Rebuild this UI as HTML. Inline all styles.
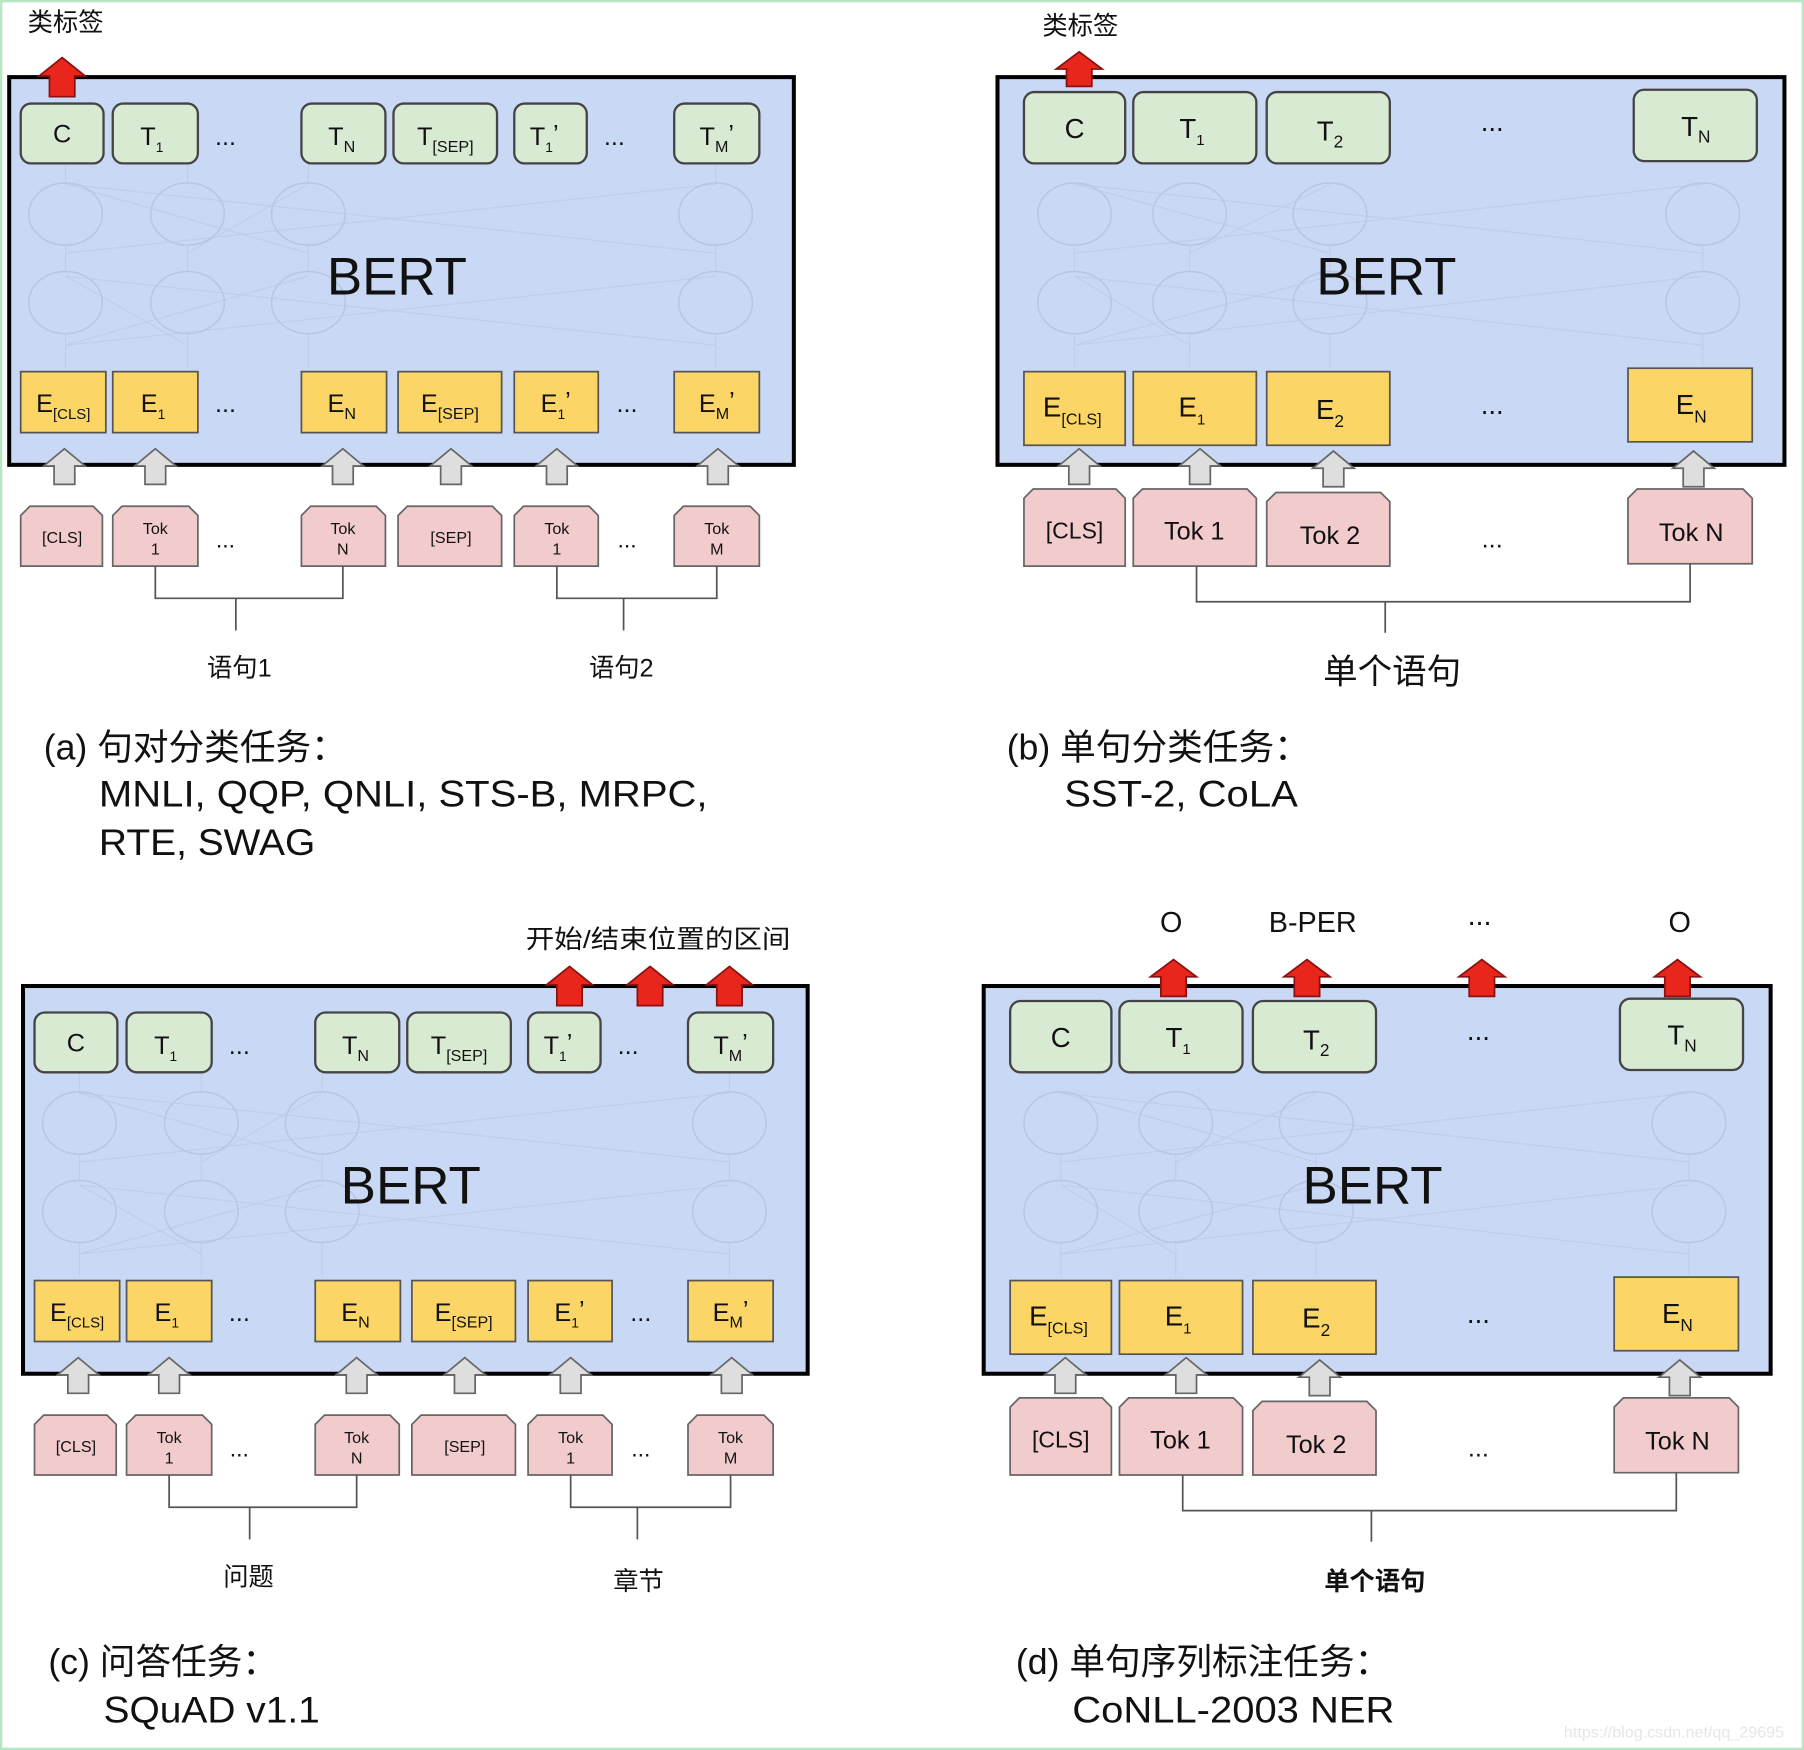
<!DOCTYPE html>
<html><head><meta charset="utf-8"><style>
html,body{margin:0;padding:0;background:#fff;}
svg{display:block;}
text{font-family:"Liberation Sans","Noto Sans CJK SC",sans-serif;fill:#111;}
.tg{fill:#d9ead3;stroke:#444;stroke-width:2;}
.ey{fill:#fbd566;stroke:#555;stroke-width:1.5;}
.tk{fill:#f2cccd;stroke:#666;stroke-width:1.5;}
.ga{fill:#dedede;stroke:#666;stroke-width:1.5;}
.ra{fill:#e8261c;stroke:#8a1010;stroke-width:1.5;}
.br{fill:none;stroke:#555;stroke-width:1.5;}
.fc{fill:none;stroke:#b9c6de;stroke-width:1.3;}
.fl{stroke:#bac7df;stroke-width:1;opacity:0.6;}
</style></head><body>
<svg width="1804" height="1750" viewBox="0 0 1568 1521" xmlns="http://www.w3.org/2000/svg">
<rect x="1" y="1" width="1566" height="1519" fill="#fff" stroke="#b8e6c2" stroke-width="2"/>
<defs>
<g id="pa">
<rect x="8" y="67" width="682" height="337" fill="#c9d9f5" stroke="#000" stroke-width="3.5"/>
<g class="fc"><ellipse cx="57" cy="186" rx="32" ry="27"/><ellipse cx="163" cy="186" rx="32" ry="27"/><ellipse cx="268" cy="186" rx="32" ry="27"/><ellipse cx="622" cy="186" rx="32" ry="27"/>
<ellipse cx="57" cy="263" rx="32" ry="27"/><ellipse cx="163" cy="263" rx="32" ry="27"/><ellipse cx="268" cy="263" rx="32" ry="27"/><ellipse cx="622" cy="263" rx="32" ry="27"/></g>
<g class="fl"><line x1="57" y1="300" x2="622" y2="240"/><line x1="622" y1="300" x2="57" y2="240"/><line x1="163" y1="300" x2="57" y2="240"/><line x1="57" y1="300" x2="268" y2="240"/><line x1="57" y1="220" x2="622" y2="160"/><line x1="622" y1="220" x2="57" y2="160"/><line x1="163" y1="220" x2="268" y2="160"/><line x1="268" y1="220" x2="57" y2="160"/>
<line x1="57" y1="320" x2="57" y2="290"/><line x1="163" y1="320" x2="163" y2="290"/><line x1="268" y1="320" x2="268" y2="290"/><line x1="622" y1="320" x2="622" y2="290"/>
<line x1="57" y1="236" x2="57" y2="213"/><line x1="163" y1="236" x2="163" y2="213"/><line x1="268" y1="236" x2="268" y2="213"/><line x1="622" y1="236" x2="622" y2="213"/>
<line x1="57" y1="159" x2="57" y2="143"/><line x1="163" y1="159" x2="163" y2="143"/><line x1="268" y1="159" x2="268" y2="143"/><line x1="622" y1="159" x2="622" y2="143"/></g>
<rect class="tg" x="18" y="90" width="72" height="52" rx="9"/><rect class="tg" x="98" y="90" width="74" height="52" rx="9"/><rect class="tg" x="262" y="90" width="73" height="52" rx="9"/><rect class="tg" x="342" y="90" width="90" height="52" rx="9"/><rect class="tg" x="447" y="90" width="63" height="52" rx="9"/><rect class="tg" x="586" y="90" width="74" height="52" rx="9"/>
<g font-size="22" text-anchor="middle"><text x="54" y="124">C</text><text x="132" y="126">T<tspan font-size="12" dy="6">1</tspan></text><text x="196" y="126">...</text><text x="297" y="126">T<tspan font-size="14" dy="6">N</tspan></text><text x="387" y="126">T<tspan font-size="14" dy="6">[SEP]</tspan></text><text x="473" y="126">T<tspan font-size="12" dy="6">1</tspan><tspan dy="-8">’</tspan></text><text x="534" y="126">...</text><text x="623" y="126">T<tspan font-size="14" dy="6">M</tspan><tspan dy="-8">’</tspan></text></g>
<text x="345" y="256" font-size="46" text-anchor="middle">BERT</text>
<rect class="ey" x="18" y="323" width="74" height="53"/><rect class="ey" x="98" y="323" width="74" height="53"/><rect class="ey" x="262" y="323" width="74" height="53"/><rect class="ey" x="346" y="323" width="90" height="53"/><rect class="ey" x="447" y="323" width="73" height="53"/><rect class="ey" x="586" y="323" width="74" height="53"/>
<g font-size="22" text-anchor="middle"><text x="55" y="358">E<tspan font-size="13" dy="6">[CLS]</tspan></text><text x="133" y="358">E<tspan font-size="12" dy="6">1</tspan></text><text x="196" y="358">...</text><text x="297" y="358">E<tspan font-size="14" dy="6">N</tspan></text><text x="391" y="358">E<tspan font-size="14" dy="6">[SEP]</tspan></text><text x="483" y="358">E<tspan font-size="12" dy="6">1</tspan><tspan dy="-8">’</tspan></text><text x="545" y="358">...</text><text x="623" y="358">E<tspan font-size="14" dy="6">M</tspan><tspan dy="-8">’</tspan></text></g>
<g class="ga"><polygon points="56,390 74,405 65,405 65,421 47,421 47,405 38,405"/><polygon points="135,390 153,405 144,405 144,421 126,421 126,405 117,405"/><polygon points="298,390 316,405 307,405 307,421 289,421 289,405 280,405"/><polygon points="392,390 410,405 401,405 401,421 383,421 383,405 374,405"/><polygon points="484,390 502,405 493,405 493,421 475,421 475,405 466,405"/><polygon points="624,390 642,405 633,405 633,421 615,421 615,405 606,405"/></g>
<g class="tk"><polygon points="18,448 26,440 81,440 89,448 89,492 18,492"/><polygon points="98,448 106,440 164,440 172,448 172,492 98,492"/><polygon points="262,448 270,440 327,440 335,448 335,492 262,492"/><polygon points="346,448 354,440 428,440 436,448 436,492 346,492"/><polygon points="447,448 455,440 512,440 520,448 520,492 447,492"/><polygon points="586,448 594,440 652,440 660,448 660,492 586,492"/></g>
<g font-size="14" text-anchor="middle"><text x="54" y="472">[CLS]</text><text x="135" y="464">Tok</text><text x="135" y="482">1</text><text x="196" y="476" font-size="20">...</text><text x="298" y="464">Tok</text><text x="298" y="482">N</text><text x="392" y="472">[SEP]</text><text x="484" y="464">Tok</text><text x="484" y="482">1</text><text x="545" y="476" font-size="20">...</text><text x="623" y="464">Tok</text><text x="623" y="482">M</text></g>
<polyline class="br" points="135,492 135,520 298,520 298,492"/><line class="br" x1="205" y1="520" x2="205" y2="548"/>
<polyline class="br" points="484,492 484,520 623,520 623,492"/><line class="br" x1="542" y1="520" x2="542" y2="548"/>
</g>
<g id="pb">
<rect x="867" y="67" width="684" height="337" fill="#c9d9f5" stroke="#000" stroke-width="3.5"/>
<g class="fc"><ellipse cx="934" cy="186" rx="32" ry="27"/><ellipse cx="1034" cy="186" rx="32" ry="27"/><ellipse cx="1156" cy="186" rx="32" ry="27"/><ellipse cx="1480" cy="186" rx="32" ry="27"/>
<ellipse cx="934" cy="263" rx="32" ry="27"/><ellipse cx="1034" cy="263" rx="32" ry="27"/><ellipse cx="1156" cy="263" rx="32" ry="27"/><ellipse cx="1480" cy="263" rx="32" ry="27"/></g>
<g class="fl"><line x1="934" y1="300" x2="1480" y2="240"/><line x1="1480" y1="300" x2="934" y2="240"/><line x1="1034" y1="300" x2="934" y2="240"/><line x1="934" y1="300" x2="1156" y2="240"/><line x1="934" y1="220" x2="1480" y2="160"/><line x1="1480" y1="220" x2="934" y2="160"/><line x1="1034" y1="220" x2="1156" y2="160"/><line x1="1156" y1="220" x2="934" y2="160"/>
<line x1="934" y1="320" x2="934" y2="290"/><line x1="1034" y1="320" x2="1034" y2="290"/><line x1="1156" y1="320" x2="1156" y2="290"/><line x1="1480" y1="318" x2="1480" y2="290"/>
<line x1="934" y1="236" x2="934" y2="213"/><line x1="1034" y1="236" x2="1034" y2="213"/><line x1="1156" y1="236" x2="1156" y2="213"/><line x1="1480" y1="236" x2="1480" y2="213"/></g>
<rect class="tg" x="890" y="80" width="88" height="62" rx="9"/><rect class="tg" x="985" y="80" width="107" height="62" rx="9"/><rect class="tg" x="1101" y="80" width="107" height="62" rx="9"/><rect class="tg" x="1420" y="78" width="107" height="62" rx="9"/>
<g font-size="24" text-anchor="middle"><text x="934" y="120">C</text><text x="1036" y="120">T<tspan font-size="13" dy="6">1</tspan></text><text x="1156" y="122">T<tspan font-size="15" dy="6">2</tspan></text><text x="1297" y="114">...</text><text x="1474" y="118">T<tspan font-size="15" dy="6">N</tspan></text></g>
<text x="1205" y="256" font-size="46" text-anchor="middle">BERT</text>
<rect class="ey" x="890" y="323" width="88" height="64"/><rect class="ey" x="985" y="323" width="107" height="64"/><rect class="ey" x="1101" y="323" width="107" height="64"/><rect class="ey" x="1415" y="320" width="108" height="64"/>
<g font-size="24" text-anchor="middle"><text x="932" y="362">E<tspan font-size="14" dy="7">[CLS]</tspan></text><text x="1036" y="362">E<tspan font-size="13" dy="7">1</tspan></text><text x="1156" y="364">E<tspan font-size="15" dy="7">2</tspan></text><text x="1297" y="360">...</text><text x="1470" y="360">E<tspan font-size="15" dy="7">N</tspan></text></g>
<g class="ga"><polygon points="938,390 956,405 947,405 947,421 929,421 929,405 920,405"/><polygon points="1043,390 1061,405 1052,405 1052,421 1034,421 1034,405 1025,405"/><polygon points="1159,392 1177,407 1168,407 1168,423 1150,423 1150,407 1141,407"/><polygon points="1472,392 1490,407 1481,407 1481,423 1463,423 1463,407 1454,407"/></g>
<g class="tk"><polygon points="890,433 898,425 970,425 978,433 978,492 890,492"/><polygon points="985,433 993,425 1084,425 1092,433 1092,492 985,492"/><polygon points="1101,436 1109,428 1200,428 1208,436 1208,492 1101,492"/><polygon points="1415,433 1423,425 1515,425 1523,433 1523,490 1415,490"/></g>
<g font-size="22" text-anchor="middle"><text x="934" y="468" font-size="20">[CLS]</text><text x="1038" y="469">Tok 1</text><text x="1156" y="473">Tok 2</text><text x="1297" y="476">...</text><text x="1470" y="470">Tok N</text></g>
<polyline class="br" points="1040,492 1040,523 1469,523 1469,490"/><line class="br" x1="1204" y1="523" x2="1204" y2="550"/>
</g>
</defs>
<!-- panel a -->
<use href="#pa"/>
<polygon class="ra" points="54,50 74,66 65,66 65,84 43,84 43,66 34,66"/>
<text x="57" y="27" font-size="22" text-anchor="middle">类标签</text>
<text x="208" y="588" font-size="22" text-anchor="middle">语句1</text>
<text x="540" y="588" font-size="22" text-anchor="middle">语句2</text>
<text x="38" y="660" font-size="31">(a) 句对分类任务：</text>
<text x="86" y="701" font-size="32" textLength="529" lengthAdjust="spacingAndGlyphs">MNLI, QQP, QNLI, STS-B, MRPC,</text>
<text x="86" y="743" font-size="32" textLength="188" lengthAdjust="spacingAndGlyphs">RTE, SWAG</text>
<!-- panel b -->
<use href="#pb"/>
<polygon class="ra" points="938,45 958,60 949,60 949,75 927,75 927,60 918,60"/>
<text x="939" y="30" font-size="22" text-anchor="middle">类标签</text>
<text x="1210" y="594" font-size="30" text-anchor="middle">单个语句</text>
<text x="875" y="660" font-size="31">(b) 单句分类任务：</text>
<text x="925" y="701" font-size="32" textLength="203" lengthAdjust="spacingAndGlyphs">SST-2, CoLA</text>
<!-- panel c -->
<use href="#pa" transform="translate(12,790)"/>
<polygon class="ra" points="495,840 515,856 506,856 506,874 484,874 484,856 475,856"/>
<polygon class="ra" points="565,840 585,856 576,856 576,874 554,874 554,856 545,856"/>
<polygon class="ra" points="634,840 654,856 645,856 645,874 623,874 623,856 614,856"/>
<text x="572" y="824" font-size="22" text-anchor="middle" textLength="230" lengthAdjust="spacingAndGlyphs">开始/结束位置的区间</text>
<text x="216" y="1378" font-size="22" text-anchor="middle">问题</text>
<text x="555" y="1382" font-size="22" text-anchor="middle">章节</text>
<text x="42" y="1455" font-size="31">(c) 问答任务：</text>
<text x="90" y="1497" font-size="32" textLength="188" lengthAdjust="spacingAndGlyphs">SQuAD v1.1</text>
<!-- panel d -->
<use href="#pb" transform="translate(-12,790)"/>
<polygon class="ra" points="1020,834 1040,849 1031,849 1031,866 1009,866 1009,849 1000,849"/>
<polygon class="ra" points="1136,834 1156,849 1147,849 1147,866 1125,866 1125,849 1116,849"/>
<polygon class="ra" points="1288,834 1308,849 1299,849 1299,866 1277,866 1277,849 1268,849"/>
<polygon class="ra" points="1458,834 1478,849 1469,849 1469,866 1447,866 1447,849 1438,849"/>
<g font-size="25" text-anchor="middle"><text x="1018" y="810">O</text><text x="1141" y="810">B-PER</text><text x="1286" y="804">...</text><text x="1460" y="810">O</text></g>
<text x="1195" y="1382" font-size="22" font-weight="bold" text-anchor="middle">单个语句</text>
<text x="883" y="1455" font-size="31">(d) 单句序列标注任务：</text>
<text x="932" y="1497" font-size="32" textLength="280" lengthAdjust="spacingAndGlyphs">CoNLL-2003 NER</text>
<text x="1455" y="1510" font-size="14" text-anchor="middle" style="fill:#e6e6e6">https://blog.csdn.net/qq_29695</text>
</svg>
</body></html>
